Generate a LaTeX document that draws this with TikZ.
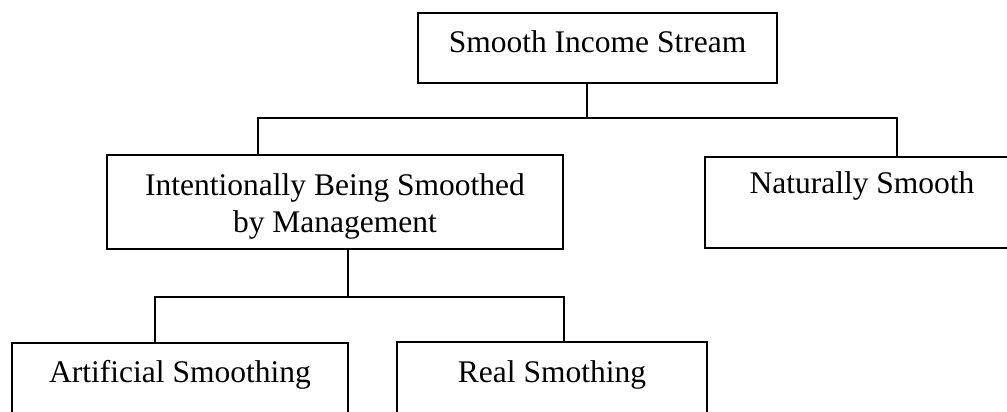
\documentclass[tikz,border=0pt]{standalone}
\usepackage{fontspec}
\setmainfont{Liberation Serif}
\begin{document}
\begin{tikzpicture}[x=1pt,y=-1pt,
  box/.style={draw, line width=2.2pt, inner sep=0pt, anchor=base,
    font=\fontsize{31.5}{37}\selectfont, text=black},
  link/.style={line width=2.2pt, line cap=rect}]
\useasboundingbox (0,0) rectangle (1007,412);
\fill[white] (0,0) rectangle (1007,412);
\clip (0,0) rectangle (1007,412);
% boxes
\node[box, minimum width=359pt, text height=40pt, text depth=30pt] (top) at (597.5,53) {Smooth Income Stream};
\node[box, minimum width=456pt, text height=40pt, text depth=54pt] (ml) at (335,195)
  {\begin{tabular}[t]{@{}c@{}}Intentionally Being Smoothed\\ by Management\end{tabular}};
\node[box, minimum width=314pt, text height=36pt, text depth=55pt] (mr) at (862,193) {Naturally Smooth};
\node[box, minimum width=336pt, text height=39pt, text depth=55pt] (bl) at (180,382) {Artificial Smoothing};
\node[box, minimum width=310pt, text height=40pt, text depth=55pt] (br) at (552,382) {Real Smothing};
% junction points
\coordinate (j1) at (587,118);
\coordinate (l1) at (258,118);
\coordinate (r1) at (897,118);
\coordinate (j2) at (348,297);
\coordinate (l2) at (155,297);
\coordinate (r2) at (564,297);
% connectors
\draw[link] (top.south -| j1) -- (j1);
\draw[link] (ml.north -| l1) -- (l1) -- (r1) -- (mr.north -| r1);
\draw[link] (ml.south -| j2) -- (j2);
\draw[link] (bl.north -| l2) -- (l2) -- (r2) -- (br.north -| r2);
\end{tikzpicture}
\end{document}
